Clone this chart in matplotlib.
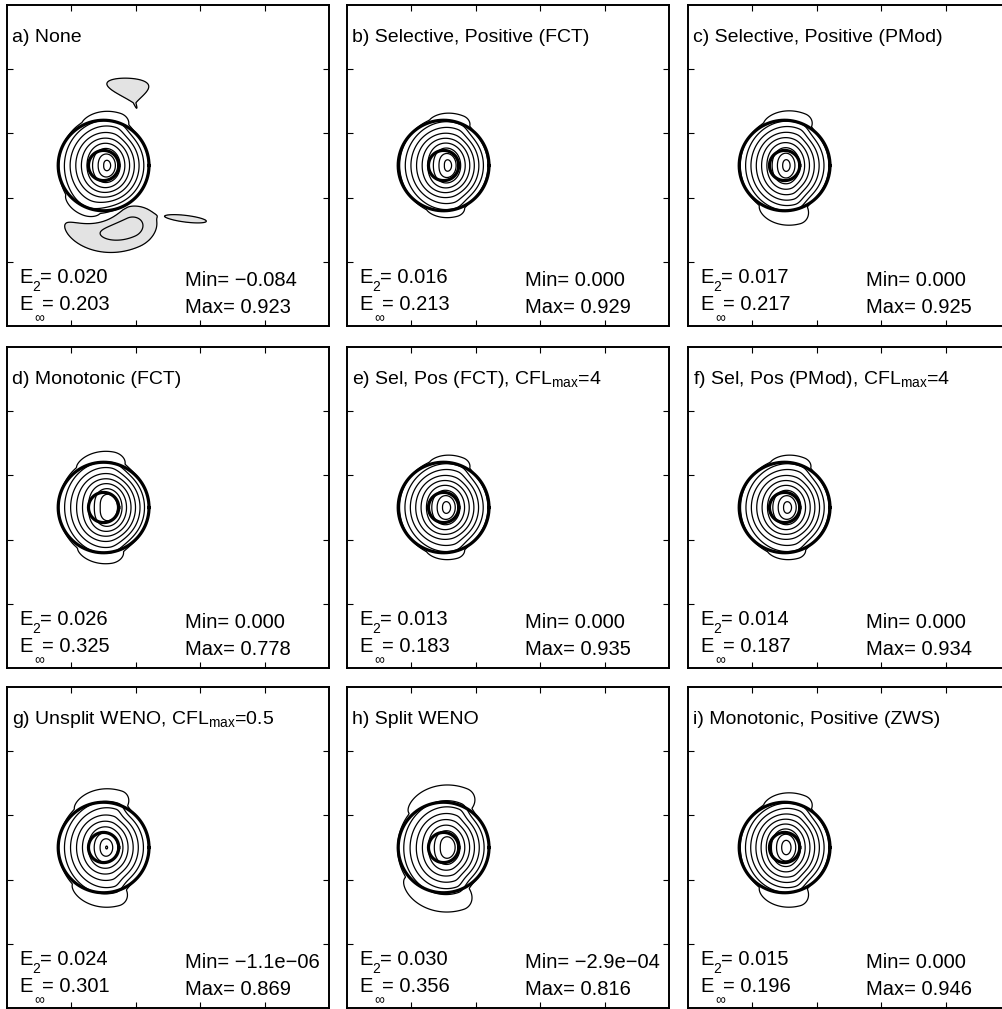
import numpy as np
import matplotlib
matplotlib.use("Agg")
import matplotlib.pyplot as plt

plt.rcParams['font.family'] = ['Liberation Sans', 'DejaVu Sans']
plt.rcParams['mathtext.fontset'] = 'custom'
plt.rcParams['mathtext.rm'] = 'Liberation Sans'
plt.rcParams['mathtext.default'] = 'regular'

# ---------------- data ----------------
titles = ["a) None", "b) Selective, Positive (FCT)", "c) Selective, Positive (PMod)",
          "d) Monotonic (FCT)", "e) Sel, Pos (FCT), CFL$_{max}$=4",
          "f) Sel, Pos (PMod), CFL$_{max}$=4", "g) Unsplit WENO, CFL$_{max}$=0.5",
          "h) Split WENO", "i) Monotonic, Positive (ZWS)"]
e2_text = ["0.020", "0.016", "0.017", "0.026", "0.013", "0.014", "0.024", "0.030", "0.015"]
einf_text = ["0.203", "0.213", "0.217", "0.325", "0.183", "0.187", "0.301", "0.356", "0.196"]
min_text = ["\u22120.084", "0.000", "0.000", "0.000", "0.000", "0.000",
            "\u22121.1e\u221206", "\u22122.9e\u221204", "0.000"]
max_vals = [0.923, 0.929, 0.925, 0.778, 0.935, 0.934, 0.869, 0.816, 0.946]

# exact solution (thick contours): centre and radii of the two circles
exact_center = (0.30, 0.50)
exact_radii = [0.141, 0.047]

# numerical solution shape per panel (cone-like hill)
outer_radius = [0.139, 0.137, 0.137, 0.140, 0.137, 0.137, 0.139, 0.140, 0.137]  # r of 0.05 contour
plateau = [1.00, 1.00, 1.00, 1.20, 1.00, 1.00, 1.00, 1.10, 1.00]
inner_stretch = [0.5, 0.6, 0.7, 0.8, 0.5, 0.5, 0.5, 0.6, 0.7]
core_shift = [0.012, 0.015, 0.006, 0.020, 0.010, 0.010, 0.010, 0.015, 0.006]

# positive side lobes: amplitude, radius, angle(deg), radial width, wide side / narrow side (deg)
top_amp = [0.10, 0.09, 0.10, 0.10, 0.09, 0.09, 0.12, 0.13, 0.10]
top_r = [0.140, 0.140, 0.140, 0.145, 0.140, 0.140, 0.145, 0.150, 0.140]
top_th = [72, 68, 68, 80, 68, 68, 72, 68, 68]
top_sr = [0.026, 0.024, 0.028, 0.026, 0.024, 0.024, 0.030, 0.034, 0.028]
top_wide = [40, 38, 42, 38, 38, 38, 42, 48, 42]
top_narrow = [12, 11, 11, 14, 11, 11, 9, 10, 11]
bot_amp = [0.09, 0.09, 0.11, 0.10, 0.09, 0.09, 0.12, 0.13, 0.11]
bot_r = [0.145, 0.140, 0.140, 0.145, 0.140, 0.140, 0.145, 0.150, 0.140]
bot_th = [-112, -75, -75, -82, -75, -75, -75, -72, -75]
bot_sr = [0.022, 0.022, 0.038, 0.026, 0.022, 0.022, 0.032, 0.038, 0.038]
bot_wide = [28, 35, 38, 35, 35, 35, 42, 50, 38]
bot_narrow = [18, 11, 11, 14, 11, 11, 10, 10, 11]

# negative undershoots of panel a: crescent below the hill, wedge above, streak right
crescent = dict(amp=-0.095, r=0.210, th=-66, sr=0.027, wide=24, narrow=9, spiral=0.0)
wedge = dict(amp=-0.032, x=0.386, y=0.722, sx=0.021, sy=0.026, taper=0.85, skew=0.38)
streak = dict(amp=-0.013, x=0.556, y=0.334, sx=0.046, sy=0.0075, ang=-7)

thin_levels = [0.05, 0.15, 0.25, 0.35, 0.45, 0.55, 0.65, 0.75, 0.85, 0.95]
neg_levels = [-0.05, -0.005]
tick_pos = [0.2, 0.4, 0.6, 0.8]

# ---------------- figure ----------------
W, H = 1003, 1009
fig = plt.figure(figsize=(W / 100, H / 100), dpi=100)
col_left = [7, 347, 688]
row_top = [5, 347, 687]
pw, ph = 322, 321

n = 500
xs = np.linspace(0, 1, n)
X, Y = np.meshgrid(xs, xs)
cx, cy = exact_center
R0 = np.hypot(X - cx, Y - cy)
TH = np.arctan2(Y - cy, X - cx)


def gauss(amp, x, y, sx, sy, ang=0.0):
    t = np.deg2rad(ang)
    dx, dy = X - x, Y - y
    u = dx * np.cos(t) + dy * np.sin(t)
    v = -dx * np.sin(t) + dy * np.cos(t)
    return amp * np.exp(-0.5 * ((u / sx) ** 2 + (v / sy) ** 2))


def tri(amp, x, y, sx, sy, taper, skew):
    dy = Y - y
    width = sx * np.clip(1 + taper * dy / sy, 0.12, None)
    xc = x - skew * dy
    return amp * np.exp(-0.5 * (((X - xc) / width) ** 2 + (dy / sy) ** 2))


def arc(amp, r, th, sr, s_ccw, s_cw, spiral=0.0):
    dth = np.angle(np.exp(1j * (TH - np.deg2rad(th))))
    s = np.deg2rad(np.where(dth > 0, s_ccw, s_cw))
    rl = r + spiral * dth
    return amp * np.exp(-0.5 * (((R0 - rl) / sr) ** 2 + (dth / s) ** 2))


fs_title = 14
fs = 14.5
fsub = 10
for k in range(9):
    r, c = divmod(k, 3)
    left = col_left[c] / W
    bottom = 1 - (row_top[r] + ph) / H
    ax = fig.add_axes([left, bottom, pw / W, ph / H])

    A = max_vals[k]
    kc = plateau[k]
    Rb = outer_radius[k] / (1 - 0.05 / (A * kc))
    inner = np.clip(1 - R0 / Rb, 0, 1)
    shift = core_shift[k] * inner
    st = 1.02 + inner_stretch[k] * inner ** 2
    rr = np.hypot(X - cx - shift, (Y - cy) / st)
    f = A * np.minimum(1.0, kc * np.clip(1 - rr / Rb, 0, 1))
    f = f + arc(top_amp[k], top_r[k], top_th[k], top_sr[k], top_wide[k], top_narrow[k])
    f = f + arc(bot_amp[k], bot_r[k], bot_th[k], bot_sr[k], bot_narrow[k], bot_wide[k])
    if k == 0:
        f = f + arc(crescent['amp'], crescent['r'], crescent['th'], crescent['sr'],
                    crescent['narrow'], crescent['wide'], crescent['spiral'])
        f = f + tri(wedge['amp'], wedge['x'], wedge['y'], wedge['sx'], wedge['sy'],
                    wedge['taper'], wedge['skew'])
        f = f + gauss(streak['amp'], streak['x'], streak['y'], streak['sx'],
                      streak['sy'], streak['ang'])
        ax.contourf(X, Y, f, levels=[-1, neg_levels[-1]], colors=['#e3e3e3'])
        ax.contour(X, Y, f, levels=neg_levels, colors='k', linewidths=0.9,
                   linestyles='solid')

    lv = [l for l in thin_levels if l < f.max()]
    ax.contour(X, Y, f, levels=lv, colors='k', linewidths=0.9, linestyles='solid')

    th = np.linspace(0, 2 * np.pi, 400)
    for rad in exact_radii:
        ax.plot(cx + rad * np.cos(th), cy + rad * np.sin(th), color='k', lw=2.3)

    ax.set_xlim(0, 1)
    ax.set_ylim(0, 1)
    ax.set_xticks(tick_pos)
    ax.set_yticks(tick_pos)
    ax.tick_params(direction='in', length=4, width=0.8, top=True, right=True,
                   labelbottom=False, labelleft=False)
    for s in ax.spines.values():
        s.set_linewidth(1.4)

    tr = ax.transAxes
    ax.text(5 / pw, 1 - 37 / ph, titles[k], transform=tr, fontsize=fs_title,
            ha='left', va='baseline')
    # E_2 line
    ax.text(12 / pw, 43 / ph, "E", transform=tr, fontsize=fs, ha='left', va='baseline')
    ax.text(25 / pw, 35 / ph, "2", transform=tr, fontsize=fsub, ha='left', va='baseline')
    ax.text(33 / pw, 43 / ph, "= " + e2_text[k], transform=tr, fontsize=fs,
            ha='left', va='baseline')
    # E_inf line
    ax.text(12 / pw, 16 / ph, "E", transform=tr, fontsize=fs, ha='left', va='baseline')
    ax.text(27 / pw, 4 / ph, "\u221e", transform=tr, fontsize=fsub, ha='left',
            va='baseline')
    ax.text(35 / pw, 16 / ph, "= " + einf_text[k], transform=tr, fontsize=fs,
            ha='left', va='baseline')
    ax.text(178 / pw, 40 / ph, "Min= " + min_text[k], transform=tr,
            fontsize=fs, ha='left', va='baseline')
    ax.text(178 / pw, 13 / ph, "Max= %.3f" % max_vals[k], transform=tr,
            fontsize=fs, ha='left', va='baseline')

fig.savefig("out.png", dpi=100)
